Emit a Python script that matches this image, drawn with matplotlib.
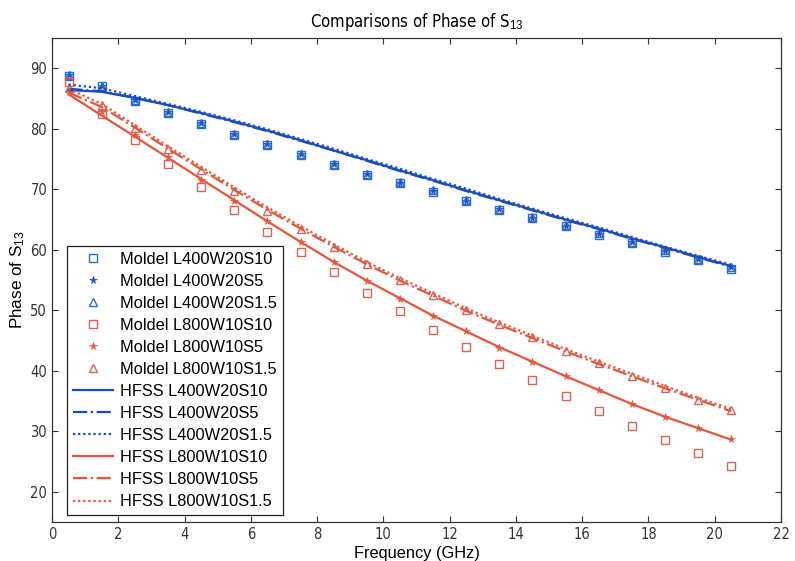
import matplotlib
matplotlib.use("Agg")
import matplotlib.pyplot as plt
from matplotlib import font_manager
from matplotlib.font_manager import FontProperties

plt.rcParams['font.family'] = ['Liberation Sans', 'DejaVu Sans']
plt.rcParams['mathtext.fontset'] = 'custom'
plt.rcParams['mathtext.rm'] = 'Liberation Sans'
plt.rcParams['mathtext.it'] = 'Liberation Sans'

# look for a narrow / condensed sans font for tick labels and title
narrow_file = None
for f in font_manager.findSystemFonts():
    low = f.lower()
    if ('liberationsansnarrow-regular' in low or 'liberationsansnarrow-regular' in low.replace(' ', '')):
        narrow_file = f
        break
if narrow_file is None:
    for f in font_manager.findSystemFonts():
        low = f.lower()
        if 'dejavusanscondensed.ttf' in low or low.endswith('dejavusanscondensed.ttf'):
            narrow_file = f
            break

def nfp(size):
    if narrow_file:
        return FontProperties(fname=narrow_file, size=size)
    return FontProperties(family='Liberation Sans', size=size)

freq = [0.5, 1.5, 2.5, 3.5, 4.5, 5.5, 6.5, 7.5, 8.5, 9.5, 10.5,
        11.5, 12.5, 13.5, 14.5, 15.5, 16.5, 17.5, 18.5, 19.5, 20.5]

model_L400W20S10 = [88.8, 87.0, 84.6, 82.6, 80.8, 79.0, 77.3, 75.7, 74.0, 72.4, 71.0,
                    69.6, 68.0, 66.6, 65.2, 63.9, 62.5, 61.1, 59.7, 58.3, 56.9]
model_L400W20S5 = [88.9, 87.0, 84.7, 82.7, 80.9, 79.1, 77.4, 75.8, 74.1, 72.5, 71.1,
                   69.7, 68.1, 66.7, 65.3, 64.0, 62.6, 61.2, 59.8, 58.4, 57.1]
model_L400W20S1p5 = [88.9, 87.1, 84.8, 82.8, 81.0, 79.2, 77.5, 75.9, 74.2, 72.6, 71.2,
                     69.8, 68.2, 66.8, 65.4, 64.1, 62.7, 61.3, 59.9, 58.5, 57.2]
model_L800W10S10 = [87.8, 82.4, 78.1, 74.1, 70.4, 66.6, 63.0, 59.7, 56.4, 52.9, 49.8,
                    46.8, 44.0, 41.1, 38.4, 35.8, 33.4, 30.9, 28.6, 26.4, 24.2]
model_L800W10S5 = [86.0, 82.8, 78.9, 75.3, 71.6, 68.1, 64.7, 61.2, 57.9, 54.8, 51.9,
                   49.0, 46.5, 43.8, 41.4, 39.1, 36.8, 34.5, 32.4, 30.6, 28.7]
model_L800W10S1p5 = [86.8, 83.9, 80.2, 76.6, 73.2, 69.7, 66.4, 63.4, 60.5, 57.6, 55.0,
                     52.5, 50.1, 47.8, 45.5, 43.3, 41.2, 39.1, 37.1, 35.2, 33.5]

hfss_L400W20S10 = [86.4, 86.1, 85.1, 83.9, 82.6, 81.2, 79.7, 78.1, 76.4, 74.8, 73.1,
                   71.5, 69.8, 68.2, 66.6, 65.0, 63.5, 61.9, 60.4, 58.8, 57.3]
hfss_L400W20S5 = [86.6, 86.2, 85.1, 83.9, 82.5, 81.1, 79.6, 78.0, 76.4, 74.7, 73.0,
                  71.4, 69.7, 68.1, 66.5, 64.9, 63.4, 61.8, 60.3, 58.7, 57.2]
hfss_L400W20S1p5 = [87.3, 86.7, 85.4, 84.1, 82.8, 81.4, 79.9, 78.3, 76.7, 75.0, 73.4,
                    71.7, 70.1, 68.4, 66.8, 65.2, 63.7, 62.1, 60.5, 59.0, 57.5]
hfss_L800W10S10 = [85.7, 82.2, 78.7, 75.2, 71.7, 68.2, 64.7, 61.3, 58.0, 54.9, 52.0,
                   49.1, 46.5, 43.9, 41.5, 39.1, 36.8, 34.5, 32.4, 30.5, 28.6]
hfss_L800W10S5 = [86.0, 83.6, 80.2, 76.7, 73.3, 69.9, 66.6, 63.5, 60.5, 57.6, 54.9,
                  52.4, 49.9, 47.6, 45.4, 43.2, 41.1, 39.1, 37.1, 35.2, 33.3]
hfss_L800W10S1p5 = [86.6, 84.1, 80.6, 77.1, 73.7, 70.3, 67.0, 63.9, 60.9, 58.0, 55.3,
                    52.8, 50.3, 48.0, 45.8, 43.6, 41.5, 39.5, 37.5, 35.5, 33.7]

xticks = [0, 2, 4, 6, 8, 10, 12, 14, 16, 18, 20, 22]
yticks = [20, 30, 40, 50, 60, 70, 80, 90]

blue_m = '#2a6cd0'
blue_l = '#1a4cc0'
red_m = '#d8645a'
red_l = '#e5563c'

fig = plt.figure(figsize=(7.95, 5.61), dpi=100)
ax = fig.add_axes([52/795, 1-522/561, (781-52)/795, (522-38)/561])

ms = 6.2
ax.plot(freq, model_L400W20S10, ls='none', marker='s', ms=ms, mfc='none', mec=blue_m, mew=1.0,
        label='Moldel L400W20S10')
ax.plot(freq, model_L400W20S5, ls='none', marker='*', ms=5.5, color=blue_l, mew=0.5,
        label='Moldel L400W20S5')
ax.plot(freq, model_L400W20S1p5, ls='none', marker='^', ms=ms, mfc='none', mec=blue_m, mew=1.0,
        label='Moldel L400W20S1.5')
ax.plot(freq, model_L800W10S10, ls='none', marker='s', ms=ms, mfc='none', mec=red_m, mew=1.0,
        label='Moldel L800W10S10')
ax.plot(freq, model_L800W10S5, ls='none', marker='*', ms=5.5, color=red_l, mew=0.5,
        label='Moldel L800W10S5')
ax.plot(freq, model_L800W10S1p5, ls='none', marker='^', ms=ms, mfc='none', mec=red_m, mew=1.0,
        label='Moldel L800W10S1.5')

lw = 1.6
ax.plot(freq, hfss_L400W20S10, ls='-', lw=lw, color=blue_l, label='HFSS L400W20S10')
ax.plot(freq, hfss_L400W20S5, ls='-.', lw=lw, color=blue_l, label='HFSS L400W20S5')
ax.plot(freq, hfss_L400W20S1p5, ls=(0, (1, 1.3)), lw=lw, color=blue_l, label='HFSS L400W20S1.5')
ax.plot(freq, hfss_L800W10S10, ls='-', lw=lw, color=red_l, label='HFSS L800W10S10')
ax.plot(freq, hfss_L800W10S5, ls='-.', lw=lw, color=red_l, label='HFSS L800W10S5')
ax.plot(freq, hfss_L800W10S1p5, ls=(0, (1, 1.3)), lw=lw, color=red_l, label='HFSS L800W10S1.5')

ax.set_xlim(0, 22)
ax.set_ylim(15, 95)
ax.set_xticks(xticks)
ax.set_yticks(yticks)
ax.set_xticklabels([str(t) for t in xticks])
ax.set_yticklabels([str(t) for t in yticks])
for lab in ax.get_xticklabels() + ax.get_yticklabels():
    lab.set_fontproperties(nfp(10.5))
    lab.set_color('#333333')
ax.tick_params(direction='in', top=True, right=True, length=4, width=0.8, colors='#333333')
for s in ax.spines.values():
    s.set_linewidth(0.9)
    s.set_color('#333333')

ax.set_title('Comparisons of Phase of S$_{13}$', fontproperties=nfp(12), pad=8)
ax.set_xlabel('Frequency (GHz)', fontsize=11.8, labelpad=3)
ax.set_ylabel('Phase of S$_{13}$', fontsize=12.3, labelpad=2)

leg = ax.legend(loc='lower left', bbox_to_anchor=(0.0206, 0.0145), borderaxespad=0,
                fontsize=11.8, labelspacing=0.43, handlelength=2.45, handletextpad=0.45,
                borderpad=0.35, fancybox=False, framealpha=1, edgecolor='#222222',
                numpoints=1)
leg.get_frame().set_linewidth(0.9)

fig.savefig('out.png', dpi=100)
